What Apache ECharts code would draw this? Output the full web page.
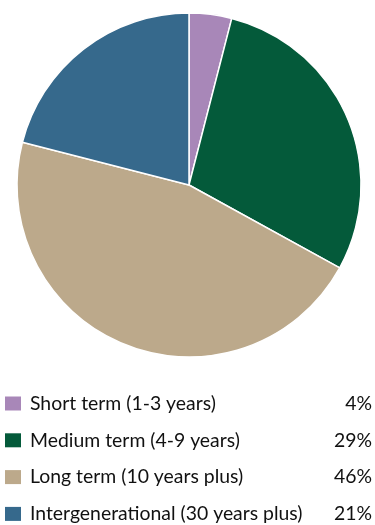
<!DOCTYPE html>
<html>
<head>
<meta charset="utf-8">
<script src="https://cdn.jsdelivr.net/npm/echarts@6/dist/echarts.min.js"></script>
<style>
  html, body { margin: 0; padding: 0; background: #fff; }
  #chart { width: 375px; height: 525px; }
</style>
</head>
<body>
<div id="chart"></div>
<script>
// Investment horizon breakdown
const categories = [
  'Short term (1-3 years)',
  'Medium term (4-9 years)',
  'Long term (10 years plus)',
  'Intergenerational (30 years plus)'
];
const shares = [4, 29, 46, 21];
const colors = ['#a887b8', '#045a3a', '#bca98b', '#36698c'];

const chart = echarts.init(document.getElementById('chart'));
const fontFamily = 'Lato, "Open Sans", sans-serif';
const keyFont = '19.4px ' + fontFamily;

// Key below the pie: swatch, label, share on the right
const keyTop = 403.5;
const keyStep = 36.8;
const keyElements = [];
categories.forEach((name, i) => {
  const cy = keyTop + i * keyStep;
  keyElements.push({
    type: 'rect',
    shape: { x: 5, y: cy - 7, width: 16, height: 14 },
    style: { fill: colors[i] },
    silent: true
  });
  keyElements.push({
    type: 'text',
    x: 30, y: cy,
    style: {
      text: name, fill: '#111', font: keyFont,
      textAlign: 'left', textVerticalAlign: 'middle'
    },
    silent: true
  });
  keyElements.push({
    type: 'text',
    x: 372, y: cy,
    style: {
      text: shares[i] + '%', fill: '#111', font: keyFont,
      textAlign: 'right', textVerticalAlign: 'middle'
    },
    silent: true
  });
});

chart.setOption({
  animation: false,
  color: colors,
  graphic: { elements: keyElements },
  series: [{
    type: 'pie',
    center: [189, 185],
    radius: [0, 172],
    startAngle: 90,
    clockwise: true,
    label: { show: false },
    labelLine: { show: false },
    emphasis: { disabled: true },
    itemStyle: { borderColor: '#fff', borderWidth: 1.5 },
    data: categories.map((c, i) => ({ name: c, value: shares[i] }))
  }]
});
</script>
</body>
</html>
